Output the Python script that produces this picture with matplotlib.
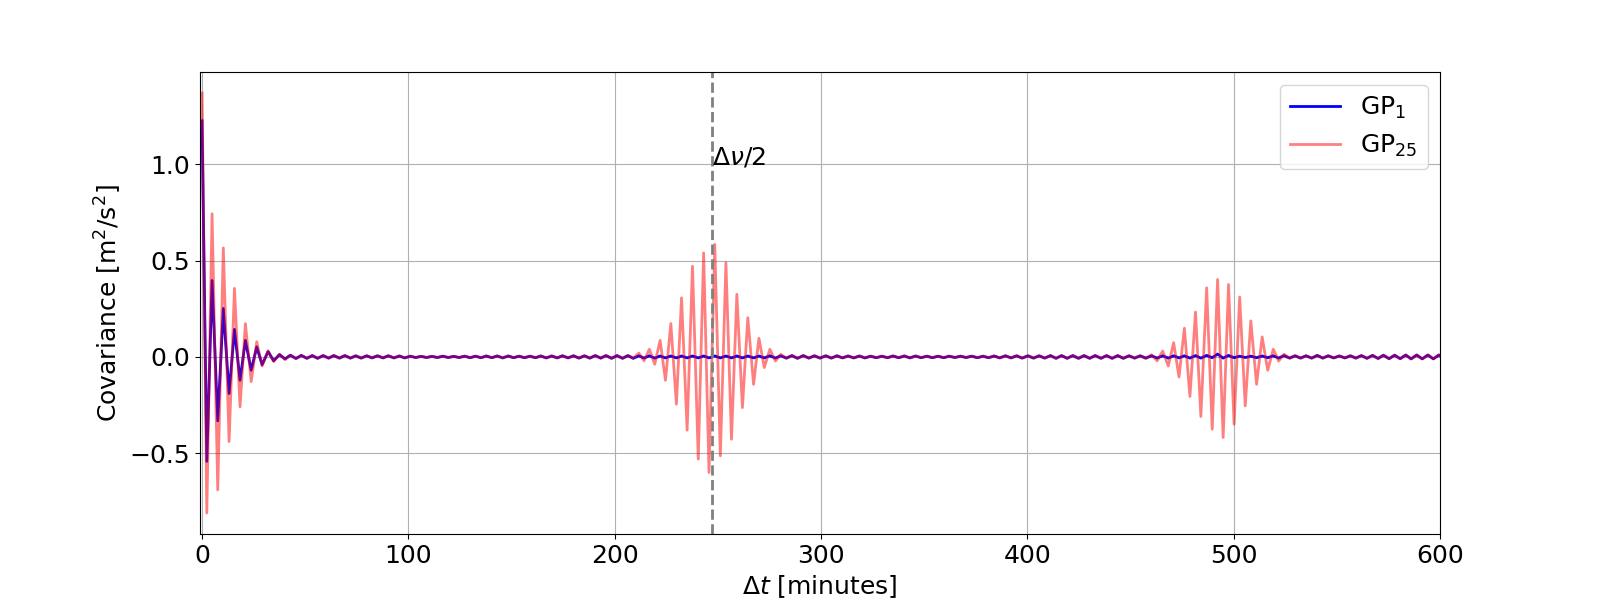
import matplotlib
matplotlib.use("Agg")

import matplotlib.pyplot as plt
import numpy as np

# extrema (peak / trough), in minutes and m^2/s^2
# decaying part at the start
init_t = [0.0, 2.3, 4.85, 7.6, 10.3, 13.1, 15.7, 18.4, 21.0, 23.8, 26.5, 29.1,
          32.0, 34.7, 37.5, 40.2]
init_gp1 = [1.226, -0.542, 0.397, -0.332, 0.252, -0.19, 0.143, -0.121, 0.086,
            -0.069, 0.052, -0.04, 0.028, -0.02, 0.012, -0.01]
init_gp25 = [1.37, -0.81, 0.743, -0.69, 0.566, -0.439, 0.356, -0.259, 0.173,
             -0.128, 0.079, -0.047, 0.031, -0.024, 0.014, -0.014]

# small ripple shared by both curves between the packets
flat1_t = [42.8, 45.5, 48.1, 50.8, 53.4, 56.0, 58.7, 61.3, 63.9, 66.6,
           69.2, 71.9, 74.5, 77.1, 79.8, 82.4, 85.0, 87.7, 90.3, 93.0,
           95.6, 98.2, 100.9, 103.5, 106.2, 108.8, 111.4, 114.1, 116.7, 119.3,
           122.0, 124.6, 127.3, 129.9, 132.5, 135.2, 137.8, 140.4, 143.1, 145.7,
           148.4, 151.0, 153.6, 156.3, 158.9, 161.6, 164.2, 166.8, 169.5, 172.1,
           174.7, 177.4, 180.0, 182.7, 185.3, 187.9, 190.6, 193.2, 195.8, 198.5,
           201.1, 203.8, 206.4, 209.0]
flat1_v = [0.009, -0.008, 0.008, -0.007, 0.007, -0.007, 0.007, -0.006, 0.007, -0.006,
           0.007, -0.006, 0.006, -0.006, 0.006, -0.005, 0.006, -0.005, 0.006, -0.005,
           0.005, -0.005, 0.004, -0.003, 0.003, -0.003, 0.003, -0.003, 0.004, -0.003,
           0.003, -0.003, 0.004, -0.004, 0.004, -0.004, 0.005, -0.004, 0.005, -0.005,
           0.005, -0.004, 0.004, -0.004, 0.004, -0.004, 0.005, -0.005, 0.005, -0.005,
           0.006, -0.005, 0.006, -0.006, 0.006, -0.006, 0.007, -0.006, 0.007, -0.007,
           0.007, -0.007, 0.007, -0.007]

# first echo, around dnu/2
pk1_t = [211.7, 214.2, 216.8, 219.4, 222.0, 224.6, 227.2, 229.9, 232.4, 235.1,
         237.7, 240.5, 243.1, 245.7, 248.5, 251.2, 253.9, 256.6, 259.2, 261.9,
         264.5, 267.3, 269.9, 272.5, 275.2, 277.9, 280.5, 283.2]
pk1_gp1 = [0.006, -0.006, 0.006, -0.006, 0.005, -0.005, 0.005, -0.005, 0.005, -0.005,
           0.005, -0.005, 0.005, -0.005, 0.005, -0.005, 0.005, -0.005, 0.005, -0.005,
           0.005, -0.005, 0.005, -0.005, 0.006, -0.006, 0.006, -0.006]
pk1_gp25 = [0.02, -0.02, 0.04, -0.038, 0.086, -0.121, 0.173, -0.245, 0.307, -0.38,
            0.471, -0.53, 0.54, -0.6, 0.584, -0.513, 0.489, -0.427, 0.325, -0.263,
            0.204, -0.142, 0.097, -0.055, 0.04, -0.021, 0.014, -0.007]

flat2_t = [285.9, 288.6, 291.4, 294.1, 296.8, 299.5, 302.3, 305.0, 307.7, 310.4,
           313.1, 315.9, 318.6, 321.3, 324.0, 326.8, 329.5, 332.2, 334.9, 337.6,
           340.4, 343.1, 345.8, 348.5, 351.3, 354.0, 356.7, 359.4, 362.1, 364.9,
           367.6, 370.3, 373.0, 375.8, 378.5, 381.2, 383.9, 386.6, 389.4, 392.1,
           394.8, 397.5, 400.3, 403.0, 405.7, 408.4, 411.2, 413.9, 416.6, 419.3,
           422.0, 424.8, 427.5, 430.2, 432.9, 435.7, 438.4, 441.1, 443.8, 446.5,
           449.3, 452.0, 454.7]
flat2_v = [0.007, -0.007, 0.007, -0.006, 0.006, -0.006, 0.006, -0.006, 0.006, -0.005,
           0.005, -0.005, 0.005, -0.005, 0.004, -0.004, 0.004, -0.004, 0.005, -0.004,
           0.005, -0.005, 0.005, -0.004, 0.004, -0.004, 0.004, -0.004, 0.004, -0.003,
           0.004, -0.003, 0.004, -0.004, 0.004, -0.004, 0.005, -0.005, 0.006, -0.005,
           0.006, -0.006, 0.006, -0.006, 0.006, -0.006, 0.007, -0.007, 0.007, -0.007,
           0.007, -0.007, 0.007, -0.007, 0.007, -0.007, 0.007, -0.007, 0.007, -0.007,
           0.006, -0.006, 0.006]

# second echo, around dnu
pk2_t = [457.4, 460.2, 462.9, 465.6, 468.3, 470.9, 473.5, 476.1, 478.8, 481.5,
         484.1, 486.9, 489.6, 492.2, 494.9, 497.5, 500.2, 502.9, 505.6, 508.3,
         511.1, 513.8, 516.5, 519.2, 521.8, 524.4]
pk2_gp1 = [-0.006, 0.006, -0.006, 0.006, -0.006, 0.006, -0.005, 0.006, -0.006, 0.007,
           -0.006, 0.008, -0.004, 0.015, -0.006, 0.008, -0.004, 0.004, -0.003, 0.004,
           -0.004, 0.005, -0.004, 0.006, -0.006, 0.007]
pk2_gp25 = [-0.008, 0.012, -0.02, 0.031, -0.047, 0.074, -0.104, 0.149, -0.205, 0.233,
            -0.309, 0.359, -0.375, 0.402, -0.418, 0.376, -0.349, 0.311, -0.254, 0.187,
            -0.142, 0.104, -0.069, 0.04, -0.021, 0.014]

flat3_t = [527.1, 529.8, 532.4, 535.1, 537.8, 540.5, 543.2, 545.8, 548.5, 551.2,
           553.9, 556.6, 559.2, 561.9, 564.6, 567.3, 570.0, 572.6, 575.3, 578.0,
           580.7, 583.4, 586.0, 588.7, 591.4, 594.1, 596.8, 599.4, 602.1]
flat3_v = [-0.006, 0.006, -0.006, 0.006, -0.006, 0.008, -0.006, 0.006, -0.005, 0.005,
           -0.005, 0.006, -0.006, 0.007, -0.007, 0.008, -0.008, 0.009, -0.009, 0.009,
           -0.009, 0.010, -0.010, 0.010, -0.010, 0.010, -0.010, 0.010, -0.010]

half_dnu = 247.1  # minutes

t = np.concatenate([init_t, flat1_t, pk1_t, flat2_t, pk2_t, flat3_t])
gp1 = np.concatenate([init_gp1, flat1_v, pk1_gp1, flat2_v, pk2_gp1, flat3_v])
gp25 = np.concatenate([init_gp25, flat1_v, pk1_gp25, flat2_v, pk2_gp25, flat3_v])

plt.rcParams["font.size"] = 18

fig, ax = plt.subplots(figsize=(16, 6), dpi=100)
ax.plot(t, gp1, color="blue", lw=2, label=r"GP$_1$")
ax.plot(t, gp25, color="red", lw=2, alpha=0.5, label=r"GP$_{25}$")
ax.axvline(half_dnu, color="gray", ls="--", lw=2)
ax.text(half_dnu, 1.0, r"$\Delta\nu/2$")
ax.set_xlim(-1, 600)
ax.set_xlabel(r"$\Delta t$ [minutes]")
ax.set_ylabel(r"Covariance [m$^2$/s$^2$]")
ax.grid(True)
ax.legend(loc="upper right")
fig.savefig("out.png")
